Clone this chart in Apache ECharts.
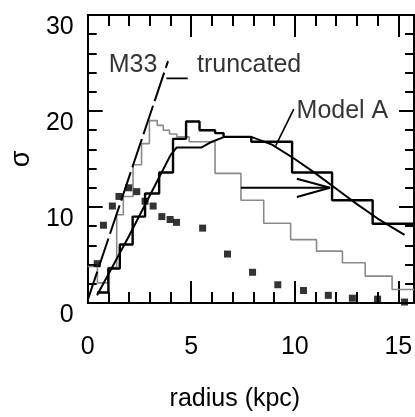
<!DOCTYPE html>
<html><head><meta charset="utf-8">
<script src="https://cdn.jsdelivr.net/npm/echarts@6/dist/echarts.min.js"></script>
<style>html,body{margin:0;padding:0;background:#fff}#c{width:415px;height:417px}</style>
</head><body><div id="c"></div>
<script>
// observed M33 velocity dispersion points
const obsR     = [0.46,0.76,1.19,1.51,1.98,2.37,2.77,3.16,3.58,3.98,4.29,5.55,6.75,7.96,9.18,10.42,11.62,12.78,14.0,15.3];
const obsSigma = [4.1,8.1,10.1,11.1,12.0,11.6,10.6,10.1,9.0,8.7,8.4,7.8,5.1,3.2,1.9,1.3,0.8,0.5,0.4,0.1];
// Model A histogram (thick black)
const modelAEdges  = [0.46,1.0,1.55,2.17,2.77,3.45,4.12,4.75,5.4,6.15,6.56,7.9,9.87,11.8,13.76,15.76];
const modelAValues = [1.1,3.6,6.1,9.0,11.4,13.6,17.1,18.9,18.0,17.7,17.3,16.8,13.6,10.7,8.25];
// truncated histogram (thin grey)
const truncEdges  = [0,0.47,0.97,1.4,1.72,2.19,2.6,2.98,3.36,3.65,3.95,4.3,4.9,6.15,7.4,8.5,9.8,11.05,12.3,13.4,14.7,15.76];
const truncValues = [3.8,2.1,3.7,9.2,11.1,14.4,16.6,19.0,18.5,18.0,17.6,17.3,16.8,13.5,10.7,8.3,6.6,5.4,4.2,2.8,1.4];
// Model A smooth curve
const curveR     = [0.45,1.0,2.0,3.0,4.0,4.3,5.5,6.0,6.6,7.9,8.9,10,11,12,13,14,15.3];
const curveSigma = [0.8,3.0,7.0,11.2,15.4,16.2,16.2,16.8,17.3,17.3,16.5,15.0,13.5,11.9,10.3,8.8,7.1];
// M33 dashed line
const m33R     = [0.0,3.88];
const m33Sigma = [0.3,25.2];
// arrow
const arrowR     = [7.4,11.7];
const arrowSigma = [12.0,12.0];
const headR      = [10.1,11.7,10.1];
const headSigma  = [12.95,12.0,11.05];
// leaders
const truncLeaderR = [3.8,4.83];
const truncLeaderSigma = [23.4,23.4];
const modelLeaderR = [9.08,9.95];
const modelLeaderSigma = [16.4,20.2];
// annotation labels
const labelTexts = ['M33','truncated','Model A'];
const labelR     = [1.04,5.30,10.11];
const labelSigma = [24.77,24.77,19.93];
// ticks
const xTickLabels = [0,5,10,15];
const yTickLabels = [0,10,20,30];

const FONT = "'Liberation Sans', Arial, Helvetica, sans-serif";
const pairs = (xs, ys) => xs.map((x,i)=>[x, ys[i]]);
const steps = (edges, vals) => { const d=[]; vals.forEach((v,i)=>{d.push([edges[i],v]); d.push([edges[i+1],v]);}); return d; };

const XMAX = 15.76;
function xAx(pos, major, showLine) {
  return {
    type:'value', position:pos, min:0, max:XMAX, interval: major?5:1,
    axisLine:{show:showLine, lineStyle:{color:'#000', width:2}},
    axisTick:{show:true, inside:true, length: major?22:11, lineStyle:{color:'#000', width:2}},
    axisLabel:{show: pos==='bottom' && major, margin:32, fontSize:25, color:'#000', fontFamily:FONT,
      showMaxLabel:false,
      formatter: v => xTickLabels.includes(v) ? String(v) : ''},
    splitLine:{show:false}
  };
}
function yAx(pos) {
  return {
    type:'value', position:pos, min:0, max:30, interval:10,
    axisLine:{show:true, onZero:false, lineStyle:{color:'#000', width:2}},
    axisTick:{show:true, inside:true, length:15, lineStyle:{color:'#000', width:2}},
    minorTick:{show:true, splitNumber:5, length:9, lineStyle:{color:'#000', width:2}},
    axisLabel:{show: pos==='left', margin:14, fontSize:25, color:'#000', fontFamily:FONT, verticalAlign:'top', lineHeight:25,
      formatter: v => yTickLabels.includes(v) ? String(v) : ''},
    splitLine:{show:false}
  };
}
const xa0 = xAx('bottom', true, true);
xa0.name = 'radius (kpc)';
xa0.nameLocation = 'middle';
xa0.nameGap = 84;
xa0.nameTextStyle = {fontSize:25, color:'#000', fontFamily:FONT, padding:[0,32,0,0]};
const ya0 = yAx('left');
ya0.name = 'σ';
ya0.nameLocation = 'middle';
ya0.nameGap = 48;
ya0.nameTextStyle = {fontSize:27, color:'#000', fontFamily:FONT};

const lineS = (data, color, width, type, z) => ({
  type:'line', data, showSymbol:false, symbol:'none', silent:true, z: z||2,
  lineStyle:{color, width, type: type||'solid'}, xAxisIndex:0, yAxisIndex:0, animation:false
});

const chart = echarts.init(document.getElementById('c'), null, {renderer:'canvas'});
chart.setOption({
  animation:false,
  grid:{left:83, top:15, width:333, height:292, containLabel:false},
  xAxis:[xa0, xAx('bottom', false, false), xAx('top', true, true), xAx('top', false, false)],
  yAxis:[ya0, yAx('right')],
  series:[
    lineS(steps(truncEdges, truncValues), '#8a8a8a', 1.6),
    lineS(steps(modelAEdges, modelAValues), '#000', 2.4, 'solid', 3),
    lineS(pairs(curveR, curveSigma), '#000', 2, 'solid', 3),
    lineS(pairs(m33R, m33Sigma), '#000', 2, [30,5], 3),
    lineS(pairs(arrowR, arrowSigma), '#000', 2, 'solid', 3),
    lineS(pairs(headR, headSigma), '#000', 2, 'solid', 3),
    lineS(pairs(truncLeaderR, truncLeaderSigma), '#000', 1.6, 'solid', 3),
    lineS(pairs(modelLeaderR, modelLeaderSigma), '#000', 1.6, 'solid', 3),
    {type:'scatter', data:pairs(obsR, obsSigma), symbol:'rect', symbolSize:7, itemStyle:{color:'#000'}, z:5, silent:true, animation:false},
    {type:'scatter', data:labelR.map((x,i)=>[x, labelSigma[i], labelTexts[i]]), symbolSize:1, itemStyle:{color:'rgba(0,0,0,0)'}, z:6, silent:true, animation:false,
      label:{show:true, position:[0,0], align:'left', verticalAlign:'middle', fontSize:25, color:'#000', fontFamily:FONT,
        formatter: p => p.data[2]}}
  ]
});
</script></body></html>
